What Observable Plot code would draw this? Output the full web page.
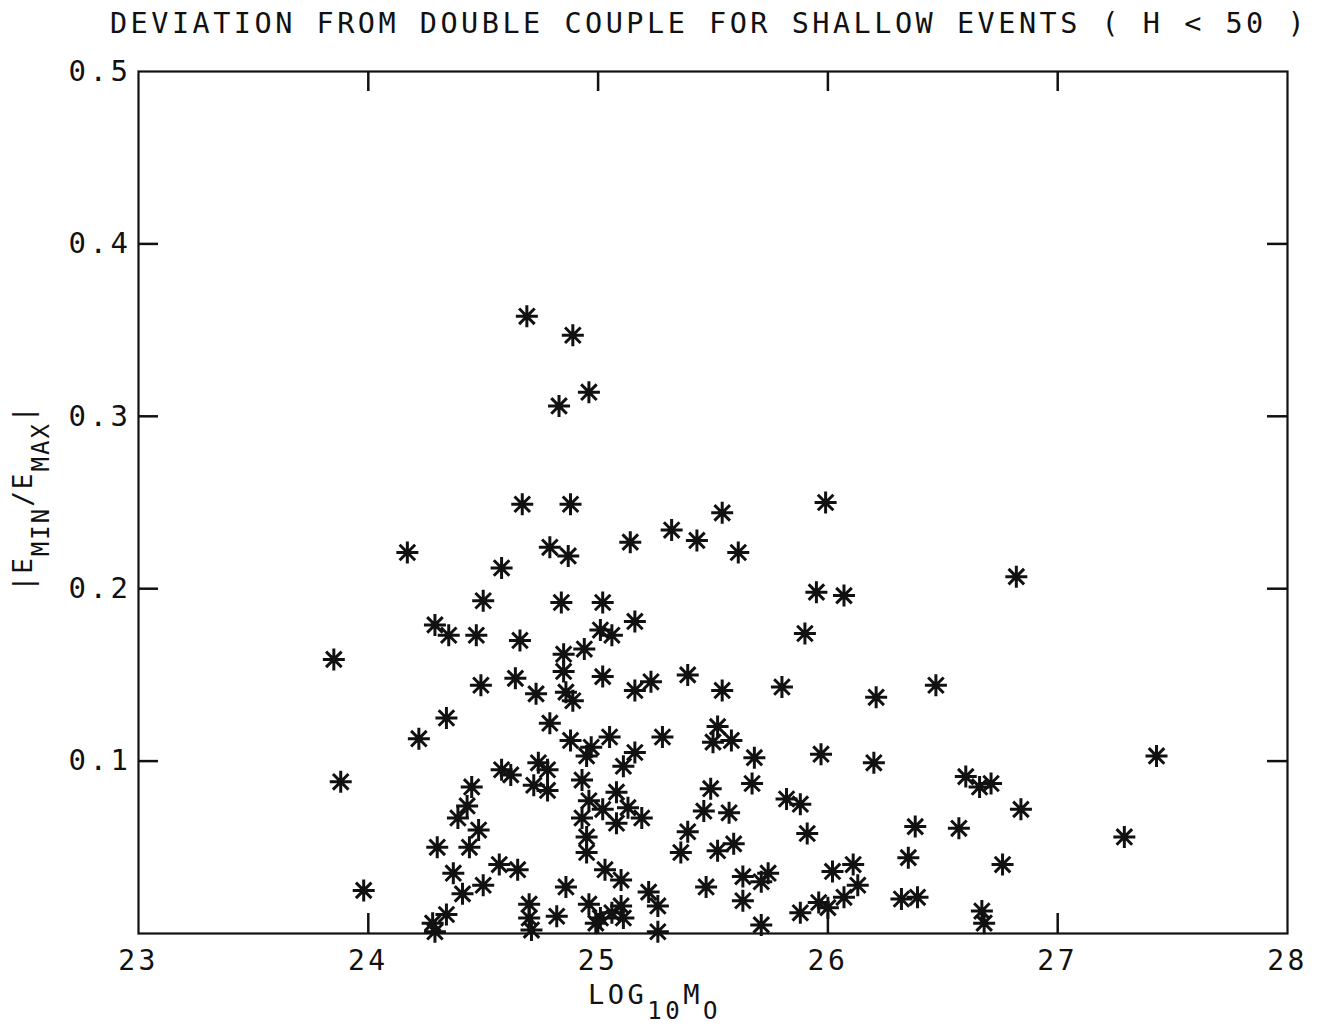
<!DOCTYPE html>
<html><head><meta charset="utf-8">
<script src="https://cdn.jsdelivr.net/npm/d3@7"></script>
<script src="https://cdn.jsdelivr.net/npm/@observablehq/plot@0.6"></script>
<style>body{margin:0;background:#fff}</style>
</head><body><div id="chart"></div>
<script>
const title = "DEVIATION FROM DOUBLE COUPLE FOR SHALLOW EVENTS ( H < 50 )";
const logM0 = [
24.69,24.89,24.96,24.83,24.67,24.88,25.54,25.99,24.17,24.79,
24.87,25.14,25.32,25.43,25.61,24.58,26.82,24.50,24.84,25.02,
25.16,24.29,24.35,24.47,24.66,25.01,25.06,25.95,26.07,25.90,
23.85,24.85,24.94,24.85,24.49,24.64,24.73,24.86,24.89,25.02,
25.16,25.23,25.39,25.54,25.80,26.21,26.47,24.34,24.22,24.79,
24.88,24.97,24.95,25.05,25.28,25.16,25.11,25.52,25.50,25.58,
25.68,25.97,26.20,27.43,23.88,24.58,24.62,24.74,24.78,24.72,
24.78,24.93,25.08,24.45,25.67,26.60,26.66,26.71,25.49,24.43,
24.39,24.48,24.96,24.93,25.02,25.13,25.08,25.19,25.46,25.57,
25.82,25.88,26.84,24.95,24.95,25.39,25.36,25.91,25.52,25.59,
26.38,26.57,27.29,24.30,24.44,26.35,26.76,23.98,24.37,24.41,
24.50,24.57,24.65,25.03,25.10,24.86,24.82,24.96,25.01,25.06,
25.10,25.11,24.99,25.22,25.26,25.26,24.70,24.70,24.71,24.34,
24.28,24.29,25.47,25.63,25.74,25.71,25.63,25.71,26.02,26.11,
26.13,26.07,25.88,25.96,26.00,26.32,26.39,26.67,26.68];
const ratio = [
0.358,0.347,0.314,0.306,0.249,0.249,0.244,0.250,0.221,0.224,
0.219,0.227,0.234,0.228,0.221,0.212,0.207,0.193,0.192,0.192,
0.181,0.179,0.173,0.173,0.170,0.176,0.173,0.198,0.196,0.174,
0.159,0.162,0.165,0.152,0.144,0.148,0.139,0.140,0.135,0.149,
0.141,0.146,0.150,0.141,0.143,0.137,0.144,0.125,0.113,0.122,
0.112,0.108,0.103,0.114,0.114,0.105,0.097,0.120,0.111,0.112,
0.102,0.104,0.099,0.103,0.088,0.095,0.092,0.099,0.095,0.086,
0.083,0.089,0.082,0.085,0.087,0.091,0.085,0.087,0.084,0.074,
0.067,0.060,0.077,0.067,0.072,0.073,0.064,0.067,0.071,0.070,
0.078,0.075,0.072,0.056,0.047,0.059,0.047,0.058,0.048,0.052,
0.062,0.061,0.056,0.050,0.050,0.044,0.040,0.025,0.035,0.023,
0.028,0.040,0.037,0.037,0.031,0.027,0.010,0.017,0.009,0.012,
0.016,0.009,0.006,0.024,0.016,0.001,0.017,0.009,0.002,0.011,
0.006,0.001,0.027,0.033,0.035,0.030,0.019,0.005,0.036,0.040,
0.028,0.021,0.012,0.018,0.015,0.020,0.021,0.013,0.006];
const xTickLabels = [23,24,25,26,27,28];
const xInnerTicks = [24,25,26,27];
const yTickLabels = [0.1,0.2,0.3,0.4,0.5];
const yInnerTicks = [0.1,0.2,0.3,0.4];

const data = logM0.map((x, i) => ({x, y: ratio[i]}));

const W = 1326, H = 1027, mL = 138, mR = 39, mT = 71, mB = 94;
const xDom = [23, 28], yDom = [0, 0.5];
const TICK = 20;
const tx = TICK * (xDom[1] - xDom[0]) / (W - mL - mR);
const ty = TICK * (yDom[1] - yDom[0]) / (H - mT - mB);
const FONT = "'DejaVu Sans Mono', 'Liberation Mono', monospace";

const asterisk = {
  draw(ctx, size) {
    const r = Math.sqrt(size / Math.PI), d = r * Math.SQRT1_2;
    ctx.moveTo(-r, 0); ctx.lineTo(r, 0);
    ctx.moveTo(0, -r); ctx.lineTo(0, r);
    ctx.moveTo(-d, -d); ctx.lineTo(d, d);
    ctx.moveTo(-d, d); ctx.lineTo(d, -d);
  }
};

const chart = Plot.plot({
  width: W, height: H,
  marginLeft: mL, marginRight: mR, marginTop: mT, marginBottom: mB,
  style: `font-family: ${FONT}; font-size: 28px; letter-spacing: 3.5px; color: #111; background: #fff;`,
  x: {domain: xDom, label: null},
  y: {domain: yDom, label: null},
  marks: [
    Plot.frame({stroke: "#111", strokeWidth: 2.2}),
    Plot.axisX(xTickLabels, {tickSize: 0, tickPadding: 17, fontSize: 28, label: null, tickFormat: d => String(d)}),
    Plot.axisY(yTickLabels, {tickSize: 0, tickPadding: 7, fontSize: 29, label: null, tickFormat: d => d.toFixed(1)}),
    Plot.ruleX(xInnerTicks, {x: d => d, y1: yDom[0], y2: yDom[0] + ty, stroke: "#111", strokeWidth: 2.5}),
    Plot.ruleX(xInnerTicks, {x: d => d, y1: yDom[1] - ty, y2: yDom[1], stroke: "#111", strokeWidth: 2.5}),
    Plot.ruleY(yInnerTicks, {y: d => d, x1: xDom[0], x2: xDom[0] + tx, stroke: "#111", strokeWidth: 2.5}),
    Plot.ruleY(yInnerTicks, {y: d => d, x1: xDom[1] - tx, x2: xDom[1], stroke: "#111", strokeWidth: 2.5}),
    Plot.dot(data, {x: "x", y: "y", symbol: asterisk, r: 11, stroke: "#111", strokeWidth: 3, fill: "none"}),
    Plot.text([title], {frameAnchor: "top", dy: -59, dx: -4, fontSize: 28.5, fill: "#111"})
  ]
});
document.getElementById("chart").append(chart);

const svg = d3.select(chart);
// x axis label LOG10 M0
const xl = svg.append("text")
  .attr("x", 588).attr("y", 1004)
  .attr("fill", "#111").attr("font-size", 27).attr("text-anchor", "start");
xl.append("tspan").text("LOG");
xl.append("tspan").attr("dy", 15).attr("font-size", 24).text("10");
xl.append("tspan").attr("dy", -15).text("M");
xl.append("tspan").attr("dy", 15).attr("font-size", 24).text("O");

// y axis label |EMIN/EMAX|
const yl = svg.append("text")
  .attr("transform", "translate(32,498) rotate(-90)")
  .attr("fill", "#111").attr("font-size", 26).attr("text-anchor", "middle")
  .style("letter-spacing", "2px");
yl.append("tspan").text("|E");
yl.append("tspan").attr("dy", 17).attr("font-size", 24).text("MIN");
yl.append("tspan").attr("dy", -17).text("/E");
yl.append("tspan").attr("dy", 17).attr("font-size", 24).text("MAX");
yl.append("tspan").attr("dy", -17).text("|");
</script>
</body></html>
